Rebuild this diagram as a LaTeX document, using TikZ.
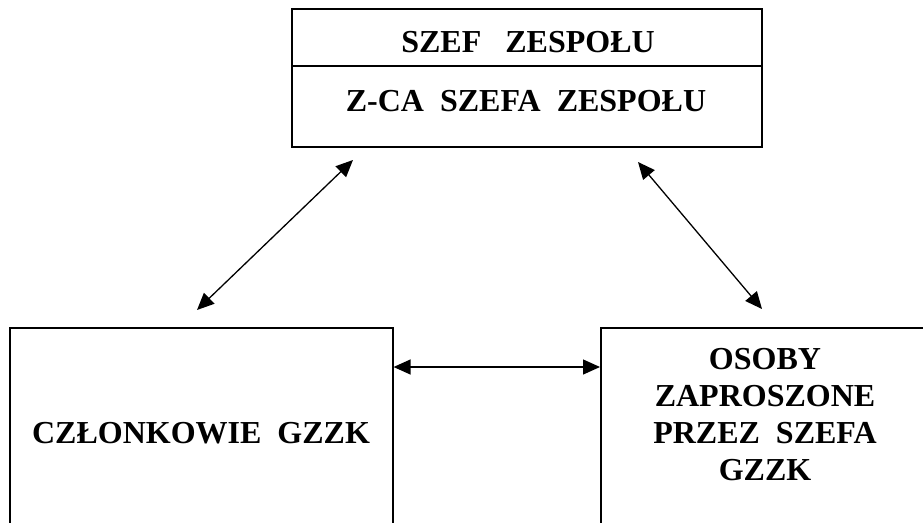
\documentclass[tikz,border=0pt]{standalone}
\usepackage{fontspec}
\setmainfont{Liberation Serif}
\usetikzlibrary{arrows.meta}
\tikzset{
  boxline/.style={draw=black, line width=1.6pt, line join=miter},
  lbl/.style={font=\bfseries\fontsize{32}{37}\selectfont, inner sep=0pt, anchor=base},
  link/.style={line width=1.3pt, {Triangle[length=17pt,width=15pt]}-{Triangle[length=17pt,width=15pt]}}
}
\begin{document}
\begin{tikzpicture}[x=1pt,y=-1pt]
\useasboundingbox (0,0) rectangle (923,522);
\clip (0,0) rectangle (923,522);
% top box
\node[boxline, rectangle, minimum width=470pt, minimum height=138pt, inner sep=0pt] (top) at (527,78) {};
\draw[boxline] (top.west |- 0,66) -- (top.east |- 0,66);
\node[lbl] (szef) at (528,52) {SZEF~~~ZESPOŁU};
\node[lbl] (zca) at (526,111) {Z-CA~~SZEFA~~ZESPOŁU};
% bottom-left box
\node[boxline, rectangle, minimum width=383pt, minimum height=240pt, inner sep=0pt, anchor=north west] (cz) at (9,327) {};
\node[lbl] (czt) at (201,443) {CZŁONKOWIE~~GZZK};
% bottom-right box
\node[boxline, rectangle, minimum width=330pt, minimum height=240pt, inner sep=0pt, anchor=north west] (os) at (600,327) {};
\node[lbl] (os1) at (765,369) {OSOBY};
\node[lbl] (os2) at (765,406) {ZAPROSZONE};
\node[lbl] (os3) at (765,443) {PRZEZ~~SZEFA};
\node[lbl] (os4) at (765,480) {GZZK};
% connector end points
\coordinate (tl) at (353,160);
\coordinate (bl) at (197,310);
\coordinate (tr) at (638,162);
\coordinate (br) at (762,309);
\coordinate (hl) at (cz.north east |- 0,367);
\coordinate (hr) at (os.north west |- 0,367);
\draw[link] (bl) -- (tl);
\draw[link] (tr) -- (br);
\draw[link] (hl) -- (hr);
\end{tikzpicture}
\end{document}
